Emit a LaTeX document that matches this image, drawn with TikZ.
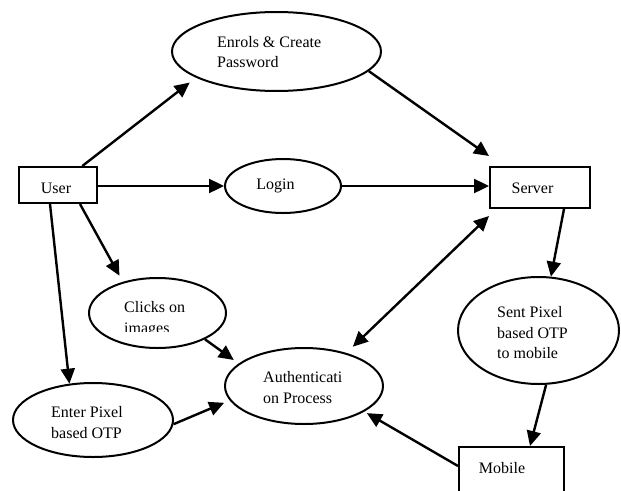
\documentclass[tikz,border=0pt]{standalone}
\usepackage{fontspec}
\setmainfont{Liberation Serif}
\usetikzlibrary{shapes.geometric,arrows.meta,calc}
\begin{document}
\begin{tikzpicture}[x=1pt,y=-1pt,
  box/.style={draw,line width=2pt,rectangle,inner sep=0pt},
  oval/.style={draw,line width=2pt,ellipse,inner sep=0pt},
  txt/.style={inner sep=0pt,align=left,font=\fontsize{16}{20.5}\selectfont},
  arr/.style={line width=2.4pt,-{Triangle[length=15pt,width=14pt]}},
  darr/.style={line width=2.4pt,{Triangle[length=15pt,width=14pt]}-{Triangle[length=15pt,width=14pt]}}]
\useasboundingbox (0,0) rectangle (621,490);
\clip (0,0) rectangle (621,490);
\fill[white] (0,0) rectangle (621,490);
% shapes
\node[box,minimum width=78pt,minimum height=36pt] (user) at (58,185) {};
\node[box,minimum width=100pt,minimum height=41pt] (server) at (540,187.5) {};
\node[box,minimum width=105pt,minimum height=80pt] (mobile) at (511.5,487) {};
\node[oval,minimum width=209pt,minimum height=79pt] (enrol) at (276.5,51.5) {};
\node[oval,minimum width=116pt,minimum height=54pt] (login) at (283,186) {};
\node[oval,minimum width=137pt,minimum height=70pt] (clicks) at (157.5,313) {};
\node[oval,minimum width=160pt,minimum height=74pt] (enter) at (93,420) {};
\node[oval,minimum width=158pt,minimum height=76pt] (auth) at (304,386) {};
\node[oval,minimum width=161pt,minimum height=107pt] (sent) at (538.5,330.5) {};
% texts
\node[txt] (userT) at (56,188) {User};
\node[txt] (serverT) at (532.5,188) {Server};
\node[txt] (mobileT) at (502,468) {Mobile};
\node[txt,anchor=west] (enrolT) at (217,52) {Enrols \& Create\\Password};
\node[txt] (loginT) at (275.5,186) {Login};
\node[txt,anchor=west] (clicksT) at (124,319) {Clicks on\\images};
\fill[white] (118,331.5) rectangle (185,339) coordinate (cover);
\node[txt,anchor=west] (enterT) at (51,422.5) {Enter Pixel\\based OTP};
\node[txt,anchor=west] (authT) at (263,387.5) {Authenticati\\on Process};
\node[txt,anchor=west] (sentT) at (497,333) {Sent Pixel\\based OTP\\to mobile};
% connectors
\draw[arr,shorten >=8pt] (user.38.7) -- (enrol.198.8);
\draw[arr] (enrol.348.4) -- ($(server.north west)+(0,-10)$);
\draw[arr] (user.east |- login.west) -- (login.west);
\draw[arr] (login.east) -- (login.east -| server.west);
\draw[arr,shorten >=7pt] ($(user.south)+(22,0)$) -- (clicks.138.5);
\draw[arr] ($(user.south)+(-8,0)$) -- (enter.123.5);
\draw[arr,shorten >=6pt] (clicks.331.3) -- (auth.161.3);
\draw[arr,shorten >=6pt] (enter.357.8) -- (auth.191.4);
\draw[darr,shorten <=9pt] (auth.38.4) -- ($(server.south west)+(0,7)$);
\draw[arr] ($(server.south)+(24,0)$) -- (sent.77.9);
\draw[arr] (sent.278.9) -- ($(mobile.north)+(18.5,0)$);
\draw[arr,shorten >=3pt] ($(mobile.north west)+(0,20)$) -- (auth.337.6);
\end{tikzpicture}
\end{document}
